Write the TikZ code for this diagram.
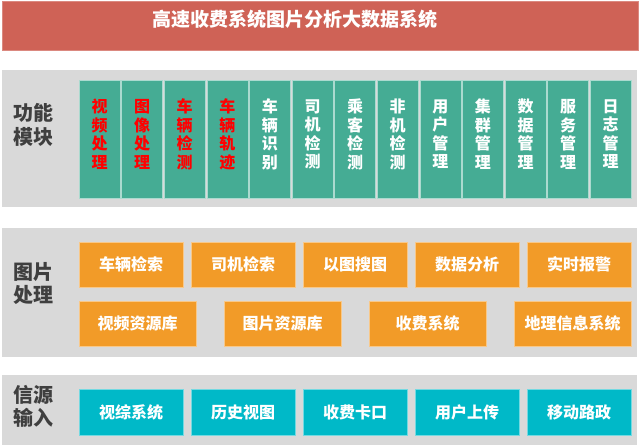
\documentclass[tikz,border=0pt]{standalone}
\usepackage{fontspec}
\setmainfont{Noto Sans CJK SC}
\usetikzlibrary{positioning}
\definecolor{hsTitle}{HTML}{CF6256}
\definecolor{hsGray}{HTML}{D9D9D9}
\definecolor{hsInk}{HTML}{3F3F3F}
\definecolor{hsMod}{HTML}{45AC94}
\definecolor{hsHot}{HTML}{FF0000}
\definecolor{hsProc}{HTML}{F29B28}
\definecolor{hsSrc}{HTML}{00B9C8}
\tikzset{
  hstitlebar/.style={rectangle,draw=hsTitle!75!white,line width=0.6pt,fill=hsTitle,minimum width=636pt,minimum height=49pt,inner sep=0pt,outer sep=0pt},
  hstitle/.style={text=white,font=\bfseries\fontsize{19}{22}\selectfont,inner sep=0pt},
  hspanel/.style={rectangle,fill=hsGray,minimum width=635pt,inner sep=0pt,outer sep=0pt},
  hslabel/.style={text=hsInk,font=\bfseries\fontsize{20}{23.5}\selectfont,align=center,inner sep=0pt},
  hsmod/.style={rectangle,draw=hsMod!45!white,line width=0.6pt,fill=hsMod,text=white,font=\bfseries\fontsize{16}{18.5}\selectfont,align=center,minimum width=41pt,minimum height=118pt,inner sep=0pt,outer sep=0pt,execute at end node={\rule[-10.5pt]{0pt}{10.5pt}}},
  hsmodhot/.style={hsmod,text=hsHot},
  hsproc/.style={rectangle,draw=hsProc!55!white,line width=0.6pt,fill=hsProc,text=white,font=\bfseries\fontsize{16}{19}\selectfont,minimum width=104pt,minimum height=45pt,inner sep=0pt,outer sep=0pt},
  hsprocwide/.style={hsproc,minimum width=117pt},
  hssrc/.style={rectangle,draw=hsSrc!55!white,line width=0.6pt,fill=hsSrc,text=white,font=\bfseries\fontsize{16}{19}\selectfont,minimum width=104pt,minimum height=46pt,inner sep=0pt,outer sep=0pt}
}

\begin{document}
\begin{tikzpicture}[x=1pt,y=-1pt]
\useasboundingbox (0,0) rectangle (640,446);

% ---- TITULO ----
\node[hstitlebar] (title) at (320,25.5) {};
\node[hstitle] (titletext) at (295,19) {高速收费系统图片分析大数据系统};

% ---- FRANJAS DE FONDO ----
\node[hspanel, minimum height=137pt] (pmod) at (319.5,138.5) {};
\node[hspanel, minimum height=129pt] (pproc) at (319.5,292.5) {};
\node[hspanel, minimum height=70pt] (psrc) at (319.5,410) {};

\node[hslabel] (lmod) at (33,125) {功能\\模块};
\node[hslabel] (lproc) at (33,283.5) {图片\\处理};
\node[hslabel] (lsrc) at (33,406.5) {信源\\输入};

% ---- FUNCIONES ----
\node[hsmodhot] (m1) at (99.5,139) {视\\频\\处\\理};
\node[hsmodhot, right=1.6pt of m1] (m2) {图\\像\\处\\理};
\node[hsmodhot, right=1.6pt of m2] (m3) {车\\辆\\检\\测};
\node[hsmodhot, right=1.6pt of m3] (m4) {车\\辆\\轨\\迹};
\node[hsmod, right=1.6pt of m4] (m5) {车\\辆\\识\\别};
\node[hsmod, right=1.6pt of m5] (m6) {司\\机\\检\\测};
\node[hsmod, right=1.6pt of m6] (m7) {乘\\客\\检\\测};
\node[hsmod, right=1.6pt of m7] (m8) {非\\机\\检\\测};
\node[hsmod, right=1.6pt of m8] (m9) {用\\户\\管\\理};
\node[hsmod, right=1.6pt of m9] (m10) {集\\群\\管\\理};
\node[hsmod, right=1.6pt of m10] (m11) {数\\据\\管\\理};
\node[hsmod, right=1.6pt of m11] (m12) {服\\务\\管\\理};
\node[hsmod, right=1.6pt of m12] (m13) {日\\志\\管\\理};

% ---- PROCESADO DE IMAGEN ----
\node[hsproc] (q1) at (131,264.5) {车辆检索};
\node[hsproc, right=8pt of q1] (q2) {司机检索};
\node[hsproc, right=8pt of q2] (q3) {以图搜图};
\node[hsproc, right=8pt of q3] (q4) {数据分析};
\node[hsproc, right=8pt of q4] (q5) {实时报警};

\node[hsprocwide] (r1) at (137.5,323.5) {视频资源库};
\node[hsprocwide, right=28pt of r1] (r2) {图片资源库};
\node[hsprocwide, right=28pt of r2] (r3) {收费系统};
\node[hsprocwide, right=28pt of r3] (r4) {地理信息系统};

% ---- FUENTES ----
\node[hssrc] (s1) at (131,412) {视综系统};
\node[hssrc, right=8pt of s1] (s2) {历史视图};
\node[hssrc, right=8pt of s2] (s3) {收费卡口};
\node[hssrc, right=8pt of s3] (s4) {用户上传};
\node[hssrc, right=8pt of s4] (s5) {移动路政};

\end{tikzpicture}
\end{document}
